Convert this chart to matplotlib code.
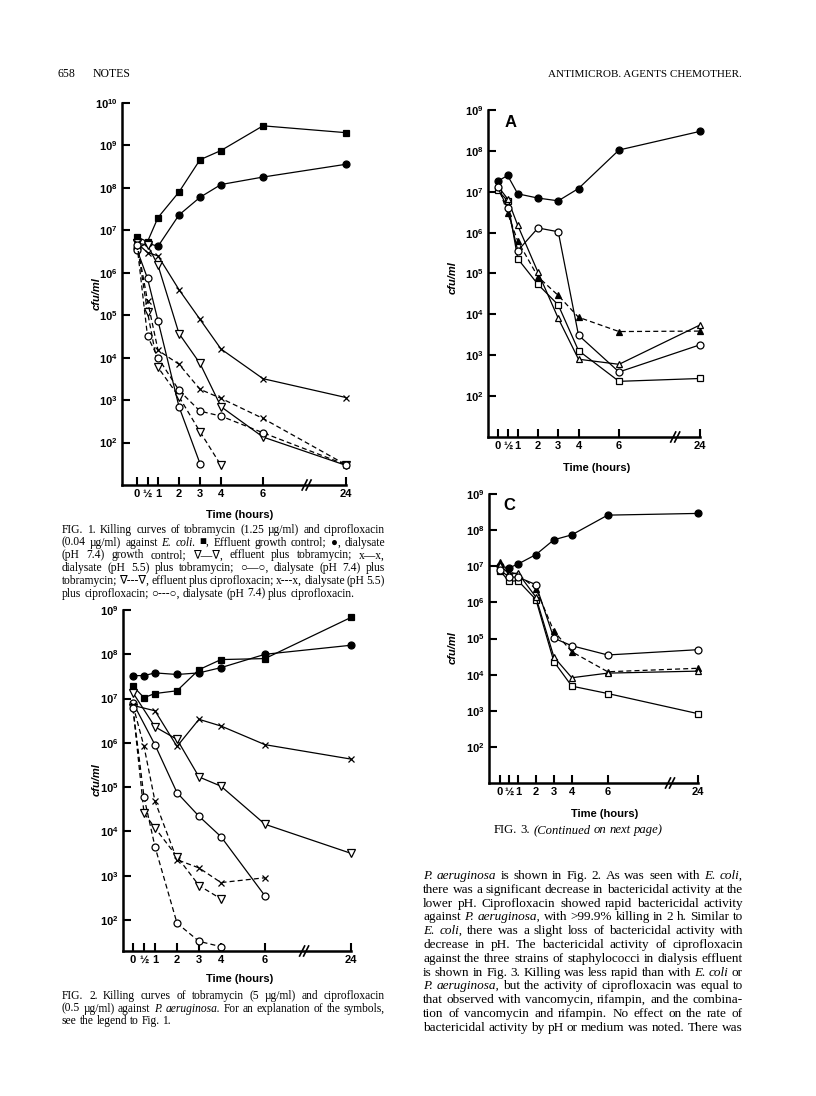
import numpy as np
import matplotlib
matplotlib.use('Agg')
import matplotlib.pyplot as plt
from matplotlib.lines import Line2D
from matplotlib.ticker import NullLocator

plt.rcParams['font.family'] = 'Liberation Sans'
plt.rcParams['mathtext.fontset'] = 'custom'
plt.rcParams['mathtext.rm'] = 'Liberation Sans:bold'
plt.rcParams['mathtext.it'] = 'Liberation Sans:bold'
plt.rcParams['mathtext.bf'] = 'Liberation Sans:bold'

# time points (hours)
hours = [0, 0.5, 1, 2, 3, 4, 6, 24]
hours_no_half = [0, 1, 2, 3, 4, 6, 24]
tick_hours = [0, 0.5, 1, 2, 3, 4, 6, 24]
tick_labels = ['0', '½', '1', '2', '3', '4', '6', '24']

# Fig. 1  E. coli
f1_eff_ctrl = [7e6, 5.4e6, 2e7, 8e7, 4.6e8, 7.6e8, 2.9e9, 2e9]
f1_dial_ctrl = [3.8e6, 5e6, 4.2e6, 2.3e7, 6e7, 1.2e8, 1.8e8, 3.6e8]
f1_eff_tobra = [5e6, 4.5e6, 1.5e6, 3.7e4, 7.3e3, 700, 135, 29]
f1_dial55_tobra = [5e6, 3e6, 2.5e6, 4e5, 8e4, 1.6e4, 3.2e3, 1.15e3]
f1_dial74_tobra = [3.5e6, 7.4e5, 7.4e4, 700, 32]
f1_eff_cipro = [5e6, 1.2e5, 5.9e3, 1.2e3, 180, 29]
f1_dial55_cipro = [5e6, 2.2e5, 1.5e4, 7e3, 1.8e3, 1.1e3, 370, 30]
f1_dial74_cipro = [4.5e6, 3.2e4, 1e4, 1.7e3, 550, 420, 170, 30]

# Fig. 2  P. aeruginosa
f2_eff_ctrl = [1.9e7, 1.05e7, 1.3e7, 1.5e7, 4.5e7, 7.6e7, 8e7, 6.8e8]
f2_dial_ctrl = [3.3e7, 3.3e7, 3.8e7, 3.5e7, 3.8e7, 5e7, 1e8, 1.6e8]
f2_eff_tobra = [1.35e7, 2.3e6, 1.2e6, 1.7e5, 1.05e5, 1.45e4, 3.2e3]
f2_dial55_tobra = [7e6, 5.3e6, 8.3e5, 3.4e6, 2.4e6, 9.1e5, 4.3e5]
f2_dial74_tobra = [8e6, 9e5, 7.5e4, 2.2e4, 7.6e3, 350]
f2_dial55_cipro = [7e6, 8.3e5, 4.8e4, 2.3e3, 1.5e3, 700, 900]
f2_eff_cipro = [6e6, 2.6e4, 1.2e4, 2.7e3, 600, 300]
f2_dial74_cipro = [6e6, 6e4, 4.5e3, 85, 33, 25]

# Fig. 3A
f3a_filled_circle = [1.8e7, 2.5e7, 8.9e6, 7e6, 6e6, 1.2e7, 1.05e8, 3e8]
f3a_open_circle = [1.3e7, 4e6, 3.6e5, 1.3e6, 1.05e6, 3.1e3, 390, 1.8e3]
f3a_open_tri = [1.4e7, 6.7e6, 1.5e6, 1.07e5, 8e3, 800, 600, 5.5e3]
f3a_open_sq = [1.1e7, 6e6, 2.3e5, 5.4e4, 1.7e4, 1.3e3, 230, 270]
f3a_filled_tri = [1.5e7, 3e6, 6.2e5, 8.3e4, 2.9e4, 8.5e3, 3.8e3, 3.9e3]

# Fig. 3C
f3c_filled_circle = [1e7, 9e6, 1.15e7, 2.1e7, 5.4e7, 7.4e7, 2.6e8, 2.9e8]
f3c_open_circle = [8e6, 5e6, 5e6, 3.1e6, 1.02e5, 6.3e4, 3.5e4, 4.9e4]
f3c_filled_tri = [1.3e7, 7e6, 6e6, 2.4e6, 1.6e5, 4.3e4, 1.2e4, 1.5e4]
f3c_open_tri = [1.1e7, 6e6, 6.5e6, 1.4e6, 3.1e4, 8.2e3, 1.1e4, 1.25e4]
f3c_open_sq = [7.5e6, 3.8e6, 4e6, 1.2e6, 2.3e4, 4.8e3, 3e3, 830]

W, H = 816, 1096
fig = plt.figure(figsize=(W / 100, H / 100), dpi=100)
fig.patch.set_facecolor('white')


def fx(x):
    return x / W


def fy(y):
    return 1 - y / H


def panel(left, right, top, bottom, t0, pphr, ylo, yhi, exps, brk):
    ax = fig.add_axes([fx(left), fy(bottom), (right - left) / W, (bottom - top) / H])
    x24 = (right - t0) / pphr
    k = (x24 - 6) / 18.0

    def fwd(t):
        t = np.asarray(t, dtype=float)
        return np.where(t <= 6, t, 6 + (t - 6) * k)

    def inv(u):
        u = np.asarray(u, dtype=float)
        return np.where(u <= 6, u, 6 + (u - 6) / k)

    ax.set_xscale('function', functions=(fwd, inv))
    ax.set_xlim(-(t0 - left) / pphr, 24)
    ax.set_yscale('log')
    ax.set_ylim(ylo, yhi)
    ax.yaxis.set_minor_locator(NullLocator())
    ax.xaxis.set_minor_locator(NullLocator())
    ax.set_yticks([10.0 ** e for e in exps])
    ax.set_yticklabels([r'$10^{%d}$' % e for e in exps], fontsize=8)
    ax.set_xticks(tick_hours)
    ax.set_xticklabels(tick_labels, fontsize=8, fontweight='bold')
    for s in ['top', 'right']:
        ax.spines[s].set_visible(False)
    for s in ['left', 'bottom']:
        ax.spines[s].set_linewidth(1.8)
    ax.tick_params(direction='in', length=6, width=1.5, pad=3)
    ax.patch.set_alpha(0)
    # axis break marks
    xb = t0 + brk * pphr
    for dx in (-2.5, 1.5):
        fig.add_artist(Line2D([fx(xb + dx - 2.5), fx(xb + dx + 2.5)],
                              [fy(bottom + 5), fy(bottom - 5)],
                              transform=fig.transFigure, color='black', lw=1.2))
    return ax


def curve(ax, t, y, marker, filled, dashed=False, ms=5):
    ax.plot(t, y, color='black', lw=0.9, ls=(0, (4, 2.5)) if dashed else '-',
            marker=marker, ms=ms, mec='black', mew=0.9,
            mfc='black' if filled else 'white', clip_on=False)


# ---- Fig. 1
ax1 = panel(122, 346, 103, 485, 137, 21.0, 1e1, 1e10, range(2, 11), 8.1)
curve(ax1, hours, f1_eff_ctrl, 's', True)
curve(ax1, hours, f1_dial_ctrl, 'o', True)
curve(ax1, hours, f1_dial55_tobra, 'x', False)
curve(ax1, hours, f1_eff_tobra, 'v', False, ms=5.5)
curve(ax1, hours[:5], f1_dial74_tobra, 'o', False)
curve(ax1, hours[:6], f1_eff_cipro, 'v', False, True, ms=5.5)
curve(ax1, hours, f1_dial55_cipro, 'x', False, True)
curve(ax1, hours, f1_dial74_cipro, 'o', False, True)

# ---- Fig. 2
ax2 = panel(123, 351, 610, 951, 133, 22.0, 10 ** 1.3, 1e9, range(2, 10), 7.8)
curve(ax2, hours, f2_eff_ctrl, 's', True)
curve(ax2, hours, f2_dial_ctrl, 'o', True)
curve(ax2, hours_no_half, f2_dial55_tobra, 'x', False)
curve(ax2, hours_no_half, f2_eff_tobra, 'v', False, ms=5.5)
curve(ax2, hours_no_half[:6], f2_dial74_tobra, 'o', False)
curve(ax2, hours[:7], f2_dial55_cipro, 'x', False, True)
curve(ax2, hours[:6], f2_eff_cipro, 'v', False, True, ms=5.5)
curve(ax2, hours[:6], f2_dial74_cipro, 'o', False, True)

# ---- Fig. 3A
ax3 = panel(488, 700, 110, 437, 497.5, 20.25, 1e1, 1e9, range(2, 10), 8.8)
curve(ax3, hours, f3a_filled_circle, 'o', True)
curve(ax3, hours, f3a_filled_tri, '^', True, True)
curve(ax3, hours, f3a_open_sq, 's', False, ms=4.5)
curve(ax3, hours, f3a_open_tri, '^', False)
curve(ax3, hours, f3a_open_circle, 'o', False)
ax3.text(0.08, 0.985, 'A', transform=ax3.transAxes, fontsize=12, fontweight='bold', va='top')

# ---- Fig. 3C
ax4 = panel(489, 698, 494, 783, 500, 17.95, 1e1, 1e9, range(2, 10), 9.5)
curve(ax4, hours, f3c_filled_circle, 'o', True)
curve(ax4, hours, f3c_filled_tri, '^', True, True)
curve(ax4, hours, f3c_open_sq, 's', False, ms=4.5)
curve(ax4, hours, f3c_open_tri, '^', False)
curve(ax4, hours, f3c_open_circle, 'o', False)
ax4.text(0.07, 0.985, 'C', transform=ax4.transAxes, fontsize=12, fontweight='bold', va='top')

# axis titles
for x, y in [(240, 515), (240, 979), (597, 468), (605, 814)]:
    fig.text(fx(x), fy(y), 'Time (hours)', fontsize=8, fontweight='bold', ha='center', va='center')
for x, y in [(97, 294), (97, 780), (453, 278), (453, 648)]:
    fig.text(fx(x), fy(y), 'cfu/ml', fontsize=8, fontweight='bold', style='italic',
             rotation=90, ha='center', va='center')

# ---- page text
serif = ['Liberation Serif', 'DejaVu Sans']
renderer = fig.canvas.get_renderer()


def natural_width(line, size):
    t = fig.text(0, 0, line.replace('*', ''), fontsize=size, family=serif)
    w = t.get_window_extent(renderer).width
    t.remove()
    return w


def fit_size(lines, width, base=9.0):
    ws = [natural_width(l, base) for l in lines]
    return base * width / (0.5 * (max(ws) + np.median(ws)))


def put_words(line, x_left, x_right, y, size, justify=True):
    objs = []
    for w in line.split(' '):
        style = 'italic' if '*' in w else 'normal'
        objs.append(fig.text(fx(x_left), fy(y), w.replace('*', ''), fontsize=size,
                             family=serif, style=style, va='baseline', ha='left'))
    widths = [o.get_window_extent(renderer).width for o in objs]
    if justify and len(objs) > 1:
        gap = (x_right - x_left - sum(widths)) / (len(objs) - 1)
    else:
        gap = size * 100 / 72 * 0.25
    x = x_left
    for o, wd in zip(objs, widths):
        o.set_x(fx(x))
        x += wd + gap


def paragraph(lines, x_left, x_right, y0, dy, size, last_justified=False):
    for i, line in enumerate(lines):
        just = last_justified or i < len(lines) - 1
        put_words(line, x_left, x_right, y0 + i * dy, size, just)


cap1 = [
    'FIG. 1. Killing curves of tobramycin (1.25 µg/ml) and ciprofloxacin',
    '(0.04 µg/ml) against *E.* *coli.* ■, Effluent growth control; ●, dialysate',
    '(pH 7.4) growth control; ∇—∇, effluent plus tobramycin; x—x,',
    'dialysate (pH 5.5) plus tobramycin; ○—○, dialysate (pH 7.4) plus',
    'tobramycin; ∇---∇, effluent plus ciprofloxacin; x---x, dialysate (pH 5.5)',
    'plus ciprofloxacin; ○---○, dialysate (pH 7.4) plus ciprofloxacin.',
]
cap2 = [
    'FIG. 2. Killing curves of tobramycin (5 µg/ml) and ciprofloxacin',
    '(0.5 µg/ml) against *P.* *aeruginosa.* For an explanation of the symbols,',
    'see the legend to Fig. 1.',
]
cap_size = fit_size(cap1[:5] + cap2[:2], 385 - 62)
paragraph(cap1, 62, 385, 533, 12.7, cap_size)
paragraph(cap2, 62, 385, 999, 12.7, cap_size)

put_words('FIG. 3. *(Continued* *on* *next* *page)*', 494, 666, 833, cap_size * 1.1, False)

body = [
    '*P.* *aeruginosa* is shown in Fig. 2. As was seen with *E.* *coli,*',
    'there was a significant decrease in bactericidal activity at the',
    'lower pH. Ciprofloxacin showed rapid bactericidal activity',
    'against *P.* *aeruginosa,* with >99.9% killing in 2 h. Similar to',
    '*E.* *coli,* there was a slight loss of bactericidal activity with',
    'decrease in pH. The bactericidal activity of ciprofloxacin',
    'against the three strains of staphylococci in dialysis effluent',
    'is shown in Fig. 3. Killing was less rapid than with *E.* *coli* or',
    '*P.* *aeruginosa,* but the activity of ciprofloxacin was equal to',
    'that observed with vancomycin, rifampin, and the combina-',
    'tion of vancomycin and rifampin. No effect on the rate of',
    'bactericidal activity by pH or medium was noted. There was',
]
body_size = fit_size(body, 743 - 423)
paragraph(body, 423, 743, 879, 13.8, body_size, last_justified=True)

# running head
fig.text(fx(58), fy(77), '658', fontsize=8.5, family=serif, va='baseline')
fig.text(fx(93), fy(77), 'NOTES', fontsize=8.5, family=serif, va='baseline')
fig.text(fx(742), fy(77), 'ANTIMICROB. AGENTS CHEMOTHER.', fontsize=8, family=serif,
         va='baseline', ha='right')

fig.savefig('out.png', dpi=100, facecolor='white')
